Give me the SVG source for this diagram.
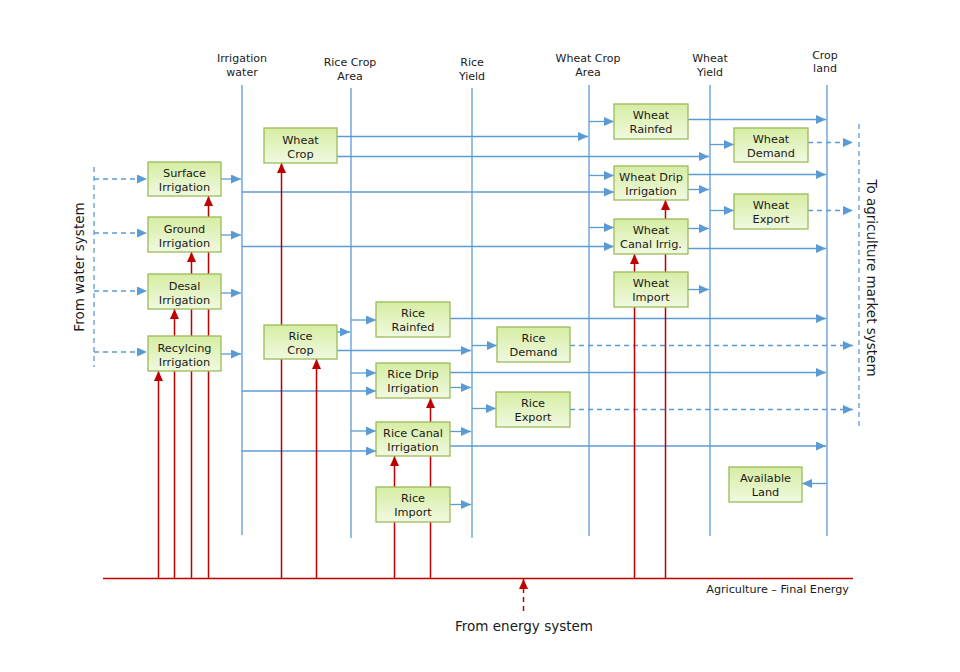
<svg xmlns="http://www.w3.org/2000/svg" width="960" height="672" viewBox="0 0 960 672">
<defs>
<linearGradient id="g" x1="0" y1="0" x2="0" y2="1">
<stop offset="0" stop-color="#D6EDA3"/>
<stop offset="1" stop-color="#F0F9E0"/>
</linearGradient>
<marker id="ab" markerUnits="userSpaceOnUse" markerWidth="10" markerHeight="9" refX="10" refY="4.5" orient="auto">
<path d="M0,0 L10,4.5 L0,9 z" fill="#5B9BD5"/>
</marker>
<marker id="ar" markerUnits="userSpaceOnUse" markerWidth="10" markerHeight="9" refX="10" refY="4.5" orient="auto">
<path d="M0,0 L10,4.5 L0,9 z" fill="#C00000"/>
</marker>
</defs>
<style>
.b{stroke:#5B9BD5;stroke-width:1.3;fill:none}
.ba{stroke:#5B9BD5;stroke-width:1.3;fill:none;marker-end:url(#ab)}
.bd{stroke:#5B9BD5;stroke-width:1.3;fill:none;stroke-dasharray:5,4}
.bda{stroke:#5B9BD5;stroke-width:1.3;fill:none;stroke-dasharray:5,4;marker-end:url(#ab)}
.r{stroke:#C00000;stroke-width:1.5;fill:none}
.ra{stroke:#C00000;stroke-width:1.5;fill:none;marker-end:url(#ar)}
.rda{stroke:#C00000;stroke-width:1.5;fill:none;stroke-dasharray:5,4;marker-end:url(#ar)}
.box{fill:url(#g);stroke:#9BBB59;stroke-width:1.3}
.t{font-family:"DejaVu Sans",sans-serif;font-size:11.3px;fill:#1a1a1a;text-anchor:middle}
.h{font-family:"DejaVu Sans",sans-serif;font-size:11px;fill:#1a1a1a;text-anchor:middle}
.L{font-family:"DejaVu Sans",sans-serif;font-size:13.5px;fill:#1a1a1a;text-anchor:middle}
</style>
<rect width="960" height="672" fill="#ffffff"/>

<g id="headers">
<text class="h" x="242" y="62">Irrigation</text><text class="h" x="242" y="76">water</text>
<text class="h" x="350" y="66">Rice Crop</text><text class="h" x="350" y="80">Area</text>
<text class="h" x="472" y="66">Rice</text><text class="h" x="472" y="80">Yield</text>
<text class="h" x="588" y="62">Wheat Crop</text><text class="h" x="588" y="76">Area</text>
<text class="h" x="710" y="62">Wheat</text><text class="h" x="710" y="76">Yield</text>
<text class="h" x="825" y="58.5">Crop</text><text class="h" x="825" y="72">land</text>
</g>

<g id="connectors">
<path class="b" d="M242,85V535"/>
<path class="b" d="M351,88V538"/>
<path class="b" d="M472,88V538"/>
<path class="b" d="M589,85V536"/>
<path class="b" d="M710,85V536"/>
<path class="b" d="M827,85V536"/>

<path class="bd" d="M94,167V367"/>
<path class="bda" d="M94,179H147"/>
<path class="bda" d="M94,233H147"/>
<path class="bda" d="M94,291H147"/>
<path class="bda" d="M94,352H147"/>

<path class="ba" d="M221,179H241"/>
<path class="ba" d="M221,235H241"/>
<path class="ba" d="M221,293H241"/>
<path class="ba" d="M221,354H241"/>

<path class="ba" d="M242,192H614"/>
<path class="ba" d="M242,246.5H614"/>
<path class="ba" d="M242,391H376"/>
<path class="ba" d="M242,451H376"/>

<path class="ba" d="M337,136.5H588"/>
<path class="ba" d="M337,156.5H709"/>
<path class="ba" d="M337,332H350"/>
<path class="ba" d="M337,350.5H471"/>

<path class="ba" d="M351,320H376"/>
<path class="ba" d="M351,373H376"/>
<path class="ba" d="M351,431H376"/>

<path class="ba" d="M450,318.5H826"/>
<path class="ba" d="M450,372.5H826"/>
<path class="ba" d="M450,387.5H471"/>
<path class="ba" d="M450,431.5H471"/>
<path class="ba" d="M450,446H826"/>
<path class="ba" d="M450,504.5H471"/>

<path class="ba" d="M472,345.5H497"/>
<path class="ba" d="M472,408.5H496"/>
<path class="bda" d="M570,345.5H853"/>
<path class="bda" d="M570,409.5H853"/>

<path class="ba" d="M589,121.5H614"/>
<path class="ba" d="M589,175.5H614"/>
<path class="ba" d="M589,227.5H614"/>

<path class="ba" d="M688,119.5H826"/>
<path class="ba" d="M688,174.5H826"/>
<path class="ba" d="M688,189.5H709"/>
<path class="ba" d="M688,228.5H709"/>
<path class="ba" d="M688,248.5H826"/>
<path class="ba" d="M688,289.5H709"/>

<path class="ba" d="M710,144.5H734"/>
<path class="ba" d="M710,210.5H734"/>
<path class="bda" d="M808,142.5H853"/>
<path class="bda" d="M808,210.5H853"/>
<path class="bd" d="M859,124V428"/>

<path class="ba" d="M827,483.5H802"/>

<path class="r" d="M103,578.5H853"/>
<path class="ra" d="M158.5,578V371"/>
<path class="ra" d="M174.5,578V309"/>
<path class="ra" d="M191.5,578V252"/>
<path class="ra" d="M208.5,578V196"/>
<path class="ra" d="M281.5,578V163"/>
<path class="ra" d="M316.5,578V359"/>
<path class="ra" d="M394.5,578V456"/>
<path class="ra" d="M430.5,578V398"/>
<path class="ra" d="M634.5,578V254"/>
<path class="ra" d="M665.5,578V200"/>
<path class="rda" d="M523.5,611V579"/>
</g>

<g id="surface"><rect class="box" x="148" y="162" width="73" height="34"/><text class="t" x="184.5" y="177">Surface</text><text class="t" x="184.5" y="191">Irrigation</text></g>
<g id="ground"><rect class="box" x="148" y="217" width="73" height="35"/><text class="t" x="184.5" y="232.5">Ground</text><text class="t" x="184.5" y="246.5">Irrigation</text></g>
<g id="desal"><rect class="box" x="148" y="274" width="73" height="35"/><text class="t" x="184.5" y="289.5">Desal</text><text class="t" x="184.5" y="303.5">Irrigation</text></g>
<g id="recycling"><rect class="box" x="148" y="336" width="73" height="35"/><text class="t" x="184.5" y="351.5">Recylcing</text><text class="t" x="184.5" y="365.5">Irrigation</text></g>
<g id="wheat-crop"><rect class="box" x="264" y="128" width="73" height="35"/><text class="t" x="300.5" y="143.5">Wheat</text><text class="t" x="300.5" y="157.5">Crop</text></g>
<g id="rice-crop"><rect class="box" x="264" y="325" width="73" height="34"/><text class="t" x="300.5" y="340">Rice</text><text class="t" x="300.5" y="354">Crop</text></g>
<g id="rice-rainfed"><rect class="box" x="376" y="302" width="74" height="35"/><text class="t" x="413" y="317">Rice</text><text class="t" x="413" y="331">Rainfed</text></g>
<g id="rice-demand"><rect class="box" x="497" y="327" width="73" height="35"/><text class="t" x="533.5" y="342">Rice</text><text class="t" x="533.5" y="356">Demand</text></g>
<g id="rice-drip"><rect class="box" x="376" y="363" width="74" height="35"/><text class="t" x="413" y="378">Rice Drip</text><text class="t" x="413" y="392">Irrigation</text></g>
<g id="rice-export"><rect class="box" x="496" y="392" width="74" height="35"/><text class="t" x="533" y="407">Rice</text><text class="t" x="533" y="421">Export</text></g>
<g id="rice-canal"><rect class="box" x="376" y="422" width="74" height="34"/><text class="t" x="413" y="437">Rice Canal</text><text class="t" x="413" y="451">Irrigation</text></g>
<g id="rice-import"><rect class="box" x="376" y="487" width="74" height="35"/><text class="t" x="413" y="502">Rice</text><text class="t" x="413" y="516">Import</text></g>
<g id="wheat-rainfed"><rect class="box" x="614" y="104" width="74" height="35"/><text class="t" x="651" y="119">Wheat</text><text class="t" x="651" y="133">Rainfed</text></g>
<g id="wheat-demand"><rect class="box" x="734" y="128" width="74" height="34"/><text class="t" x="771" y="142.5">Wheat</text><text class="t" x="771" y="156.5">Demand</text></g>
<g id="wheat-drip"><rect class="box" x="614" y="166" width="74" height="34"/><text class="t" x="651" y="180.5">Wheat Drip</text><text class="t" x="651" y="194.5">Irrigation</text></g>
<g id="wheat-export"><rect class="box" x="734" y="194" width="74" height="35"/><text class="t" x="771" y="209">Wheat</text><text class="t" x="771" y="223">Export</text></g>
<g id="wheat-canal"><rect class="box" x="614" y="219" width="74" height="35"/><text class="t" x="651" y="234">Wheat</text><text class="t" x="651" y="248">Canal Irrig.</text></g>
<g id="wheat-import"><rect class="box" x="614" y="272" width="74" height="35"/><text class="t" x="651" y="287">Wheat</text><text class="t" x="651" y="301">Import</text></g>
<g id="available-land"><rect class="box" x="729" y="467" width="73" height="35"/><text class="t" x="765.5" y="482">Available</text><text class="t" x="765.5" y="496">Land</text></g>

<g id="labels">
<text class="L" transform="translate(83.5,267) rotate(-90)">From water system</text>
<text class="L" transform="translate(867,278) rotate(90)">To agriculture market system</text>
<text class="L" x="524" y="631">From energy system</text>
<text font-family="DejaVu Sans, sans-serif" font-size="11.2px" fill="#1a1a1a" text-anchor="end" x="849" y="593">Agriculture – Final Energy</text>
</g>
</svg>
